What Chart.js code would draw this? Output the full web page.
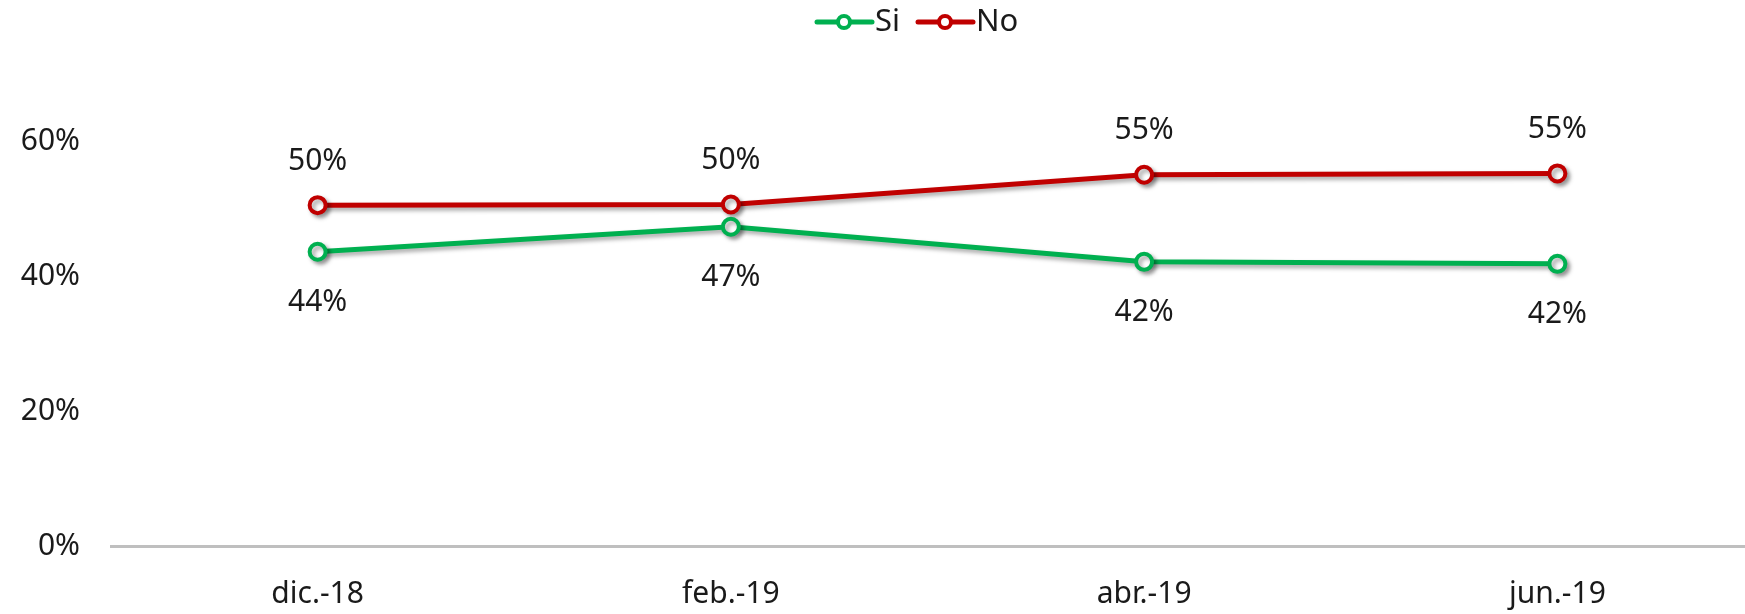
<!DOCTYPE html>
<html>
<head>
<meta charset="utf-8">
<script src="https://cdn.jsdelivr.net/npm/chart.js@4"></script>
<style>
  html, body { margin: 0; padding: 0; background: #fff; overflow: hidden; }
  #wrap { width: 1745px; height: 614px; overflow: hidden; }
</style>
</head>
<body>
<div id="wrap"><canvas id="chart" width="1764" height="614"></canvas></div>
<script>
// 데이터
const categories = ['dic.-18', 'feb.-19', 'abr.-19', 'jun.-19'];
const siValues = [0.436, 0.473, 0.421, 0.418];
const noValues = [0.505, 0.506, 0.550, 0.552];
const siLabels = ['44%', '47%', '42%', '42%'];
const noLabels = ['50%', '50%', '55%', '55%'];

const FONT = '"Noto Sans", "Open Sans", sans-serif';
const GREEN = '#00B050';
const RED = '#C00000';

// 선 그림자
const shadowPlugin = {
  id: 'lineShadow',
  beforeDatasetDraw(chart) {
    const ctx = chart.ctx;
    ctx.save();
    ctx.shadowColor = 'rgba(0,0,0,0.35)';
    ctx.shadowBlur = 4;
    ctx.shadowOffsetX = 3;
    ctx.shadowOffsetY = 3;
  },
  afterDatasetDraw(chart) {
    chart.ctx.restore();
  }
};

// 값 라벨
const valueLabels = {
  id: 'valueLabels',
  afterDatasetsDraw(chart) {
    const ctx = chart.ctx;
    ctx.save();
    ctx.font = '30px ' + FONT;
    ctx.fillStyle = '#1a1a1a';
    ctx.textAlign = 'center';
    ctx.textBaseline = 'middle';
    chart.data.datasets.forEach((ds, i) => {
      const meta = chart.getDatasetMeta(i);
      meta.data.forEach((pt, j) => {
        const dy = ds.labelPos === 'above' ? -44 : 51;
        ctx.fillText(ds.valueLabels[j], pt.x, pt.y + dy);
      });
    });
    ctx.restore();
  }
};

// 범례 (선 + 원)
const lineLegend = {
  id: 'lineLegend',
  afterDraw(chart) {
    const ctx = chart.ctx;
    const items = [
      { x: 817, color: GREEN, text: 'Si' },
      { x: 918, color: RED, text: 'No' }
    ];
    const y = 22;
    ctx.save();
    ctx.font = '31px ' + FONT;
    ctx.textBaseline = 'middle';
    items.forEach(it => {
      ctx.strokeStyle = it.color;
      ctx.lineWidth = 5;
      ctx.lineCap = 'round';
      ctx.beginPath();
      ctx.moveTo(it.x, y);
      ctx.lineTo(it.x + 55, y);
      ctx.stroke();
      ctx.beginPath();
      ctx.arc(it.x + 27, y, 6, 0, Math.PI * 2);
      ctx.fillStyle = '#fff';
      ctx.fill();
      ctx.lineWidth = 4;
      ctx.stroke();
      ctx.fillStyle = '#1a1a1a';
      ctx.textAlign = 'left';
      ctx.fillText(it.text, it.x + 58, y);
    });
    ctx.restore();
  }
};

new Chart(document.getElementById('chart').getContext('2d'), {
  type: 'line',
  data: {
    labels: categories,
    datasets: [
      {
        label: 'Si',
        data: siValues,
        valueLabels: siLabels,
        labelPos: 'below',
        borderColor: GREEN,
        backgroundColor: '#fff',
        borderWidth: 5,
        pointRadius: 8,
        pointBorderWidth: 4,
        pointBackgroundColor: '#fff',
        pointBorderColor: GREEN,
        tension: 0
      },
      {
        label: 'No',
        data: noValues,
        valueLabels: noLabels,
        labelPos: 'above',
        borderColor: RED,
        backgroundColor: '#fff',
        borderWidth: 5,
        pointRadius: 8,
        pointBorderWidth: 4,
        pointBackgroundColor: '#fff',
        pointBorderColor: RED,
        tension: 0
      }
    ]
  },
  options: {
    responsive: false,
    animation: false,
    layout: { autoPadding: false, padding: { top: 141, right: 0, bottom: 0, left: 0 } },
    plugins: {
      legend: { display: false },
      tooltip: { enabled: false }
    },
    scales: {
      x: {
        offset: true,
        grid: { display: false, drawTicks: false, offset: true },
        border: { display: true, color: '#bfbfbf', width: 3 },
        ticks: {
          color: '#1a1a1a',
          font: { family: FONT, size: 30 },
          padding: 30,
          maxRotation: 0
        },
        afterFit(scale) {
          scale.height = 68;
          scale.paddingLeft = 0;
          scale.paddingRight = 0;
        }
      },
      y: {
        min: 0,
        max: 0.6,
        grid: { display: false, drawTicks: false },
        border: { display: false },
        ticks: {
          stepSize: 0.2,
          color: '#1a1a1a',
          font: { family: FONT, size: 30 },
          padding: 31,
          callback: v => Math.round(v * 100) + '%'
        },
        afterFit(scale) { scale.width = 111; }
      }
    }
  },
  plugins: [shadowPlugin, valueLabels, lineLegend]
});
</script>
</body>
</html>
